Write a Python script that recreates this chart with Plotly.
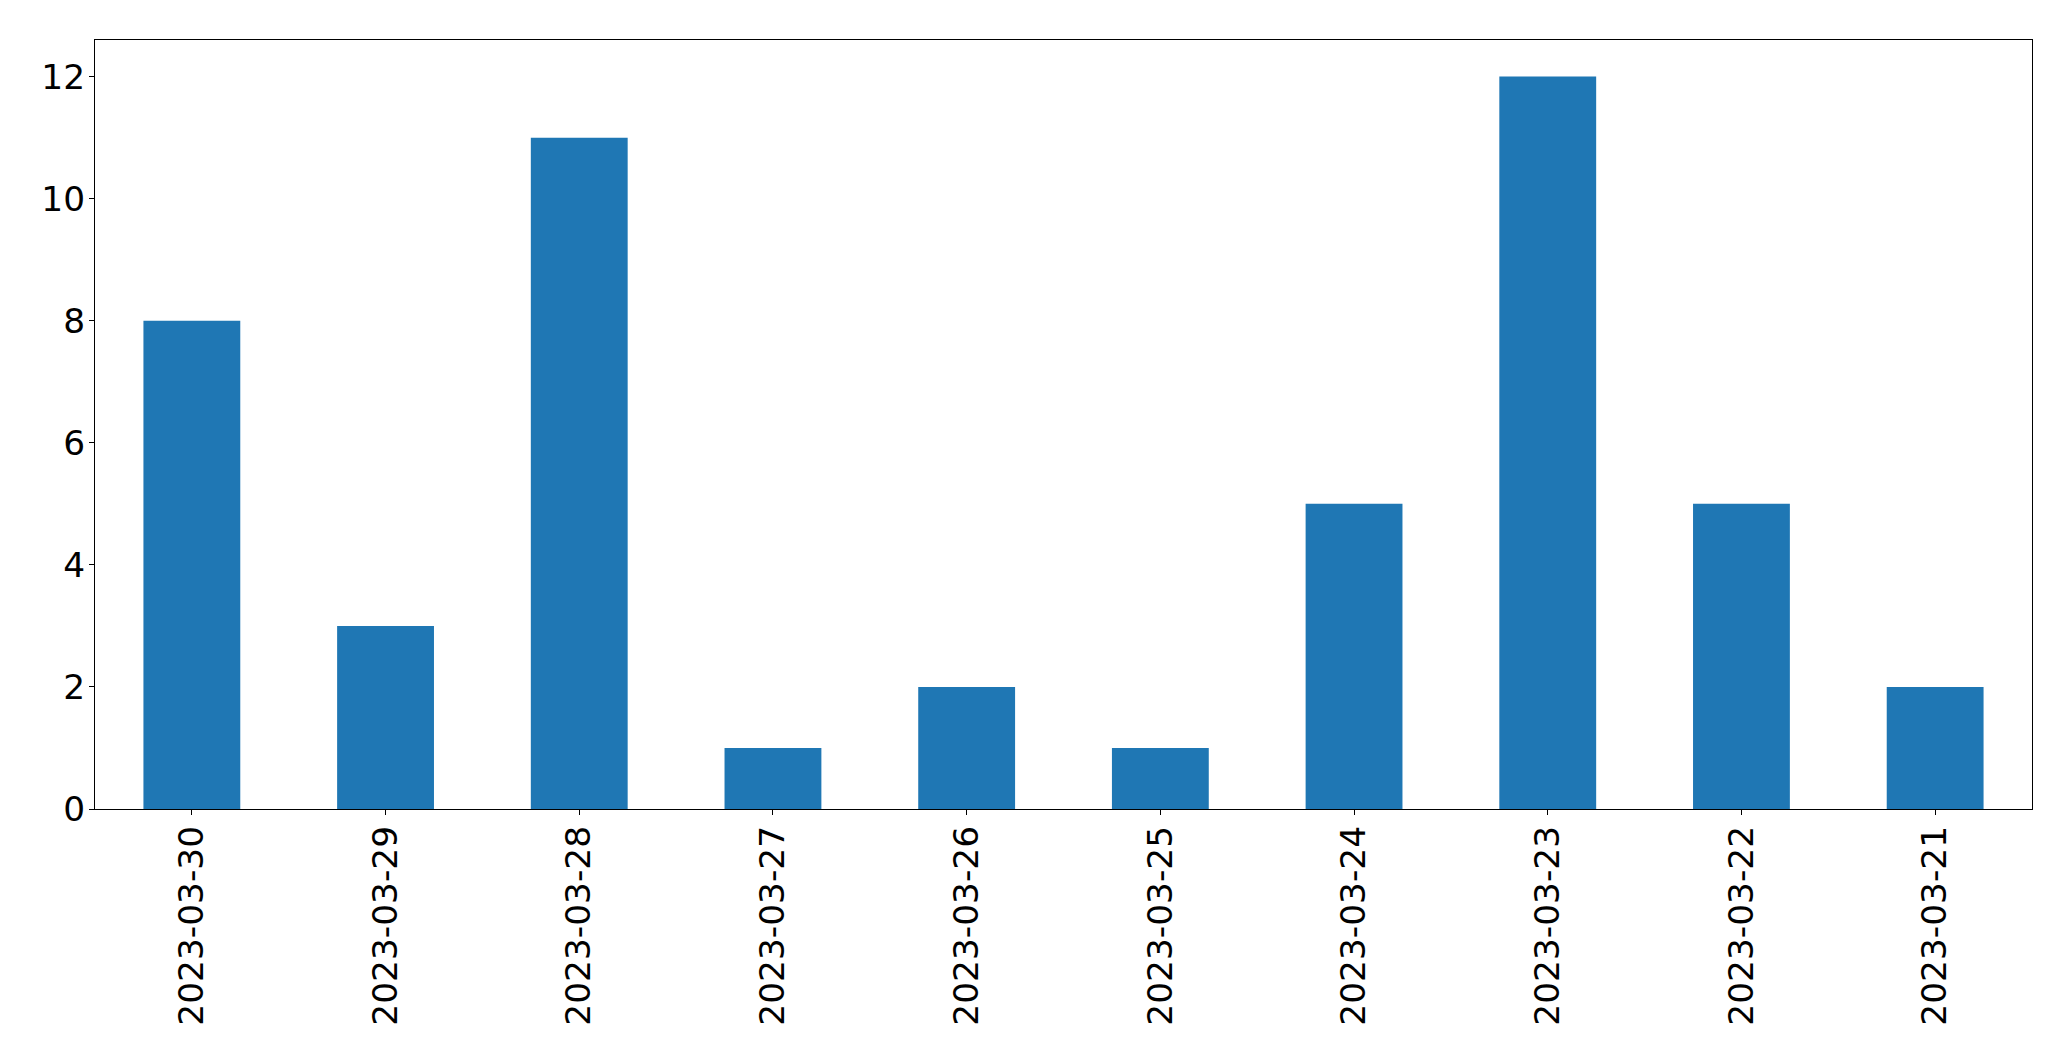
import plotly.graph_objects as go

dates = ["2023-03-30", "2023-03-29", "2023-03-28", "2023-03-27", "2023-03-26",
         "2023-03-25", "2023-03-24", "2023-03-23", "2023-03-22", "2023-03-21"]
counts = [8, 3, 11, 1, 2, 1, 5, 12, 5, 2]
y_ticks = [0, 2, 4, 6, 8, 10, 12]

fig = go.Figure(go.Bar(x=dates, y=counts, marker_color="#1f77b4", marker_line_width=0, width=0.5))

font = dict(family="DejaVu Sans", size=34.4, color="black")
fig.update_layout(
    width=2063, height=1053,
    margin=dict(l=87, r=39, t=32, b=252),
    plot_bgcolor="white", paper_bgcolor="white",
    showlegend=False,
    font=font,
)
fig.update_xaxes(
    type="category", range=[-0.5, 9.5], tickangle=-90,
    showline=True, linecolor="black", linewidth=1.2, mirror=True,
    ticks="outside", ticklen=5, tickwidth=1.2, tickcolor="black",
    showgrid=False, tickfont=font, ticklabelstandoff=-3,
)
fig.update_yaxes(
    range=[0, 12.6], tickvals=y_ticks,
    showline=True, linecolor="black", linewidth=1.2, mirror=True,
    ticks="outside", ticklen=5, tickwidth=1.2, tickcolor="black",
    showgrid=False, zeroline=False, tickfont=font, ticklabelstandoff=-3,
)
fig.write_html("out.html")
